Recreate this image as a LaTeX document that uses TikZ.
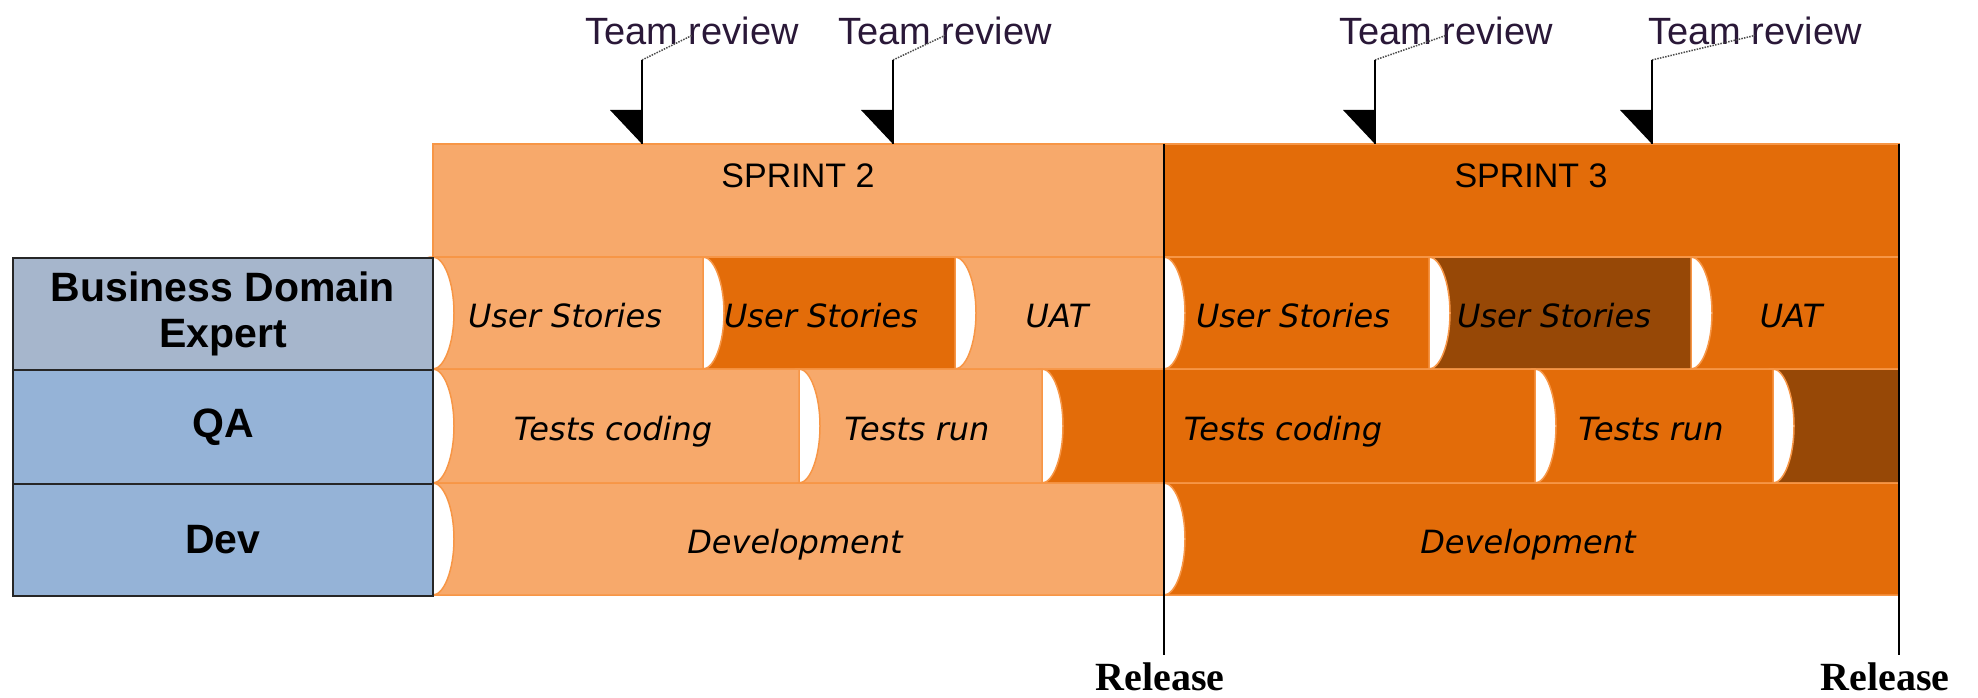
\documentclass[tikz,border=0pt]{standalone}
\usepackage{fontspec}
\setmainfont{Liberation Sans}
\newfontfamily\segfont{DejaVu Sans}
\newfontfamily\relfont{Liberation Serif}
\definecolor{lightor}{HTML}{F7A96B}
\definecolor{darkor}{HTML}{E36C09}
\definecolor{segbrown}{HTML}{974806}
\definecolor{edgeor}{HTML}{F79646}
\definecolor{bdeblue}{HTML}{A6B6CC}
\definecolor{roleblue}{HTML}{95B3D7}
\definecolor{reviewink}{HTML}{2A1838}
\newcommand\segm[5]{%
  \filldraw[segstyle, fill=#5] (#1,#3) -- (#2,#3) -- (#2,#4) -- (#1,#4)
    .. controls ({#1+11},#4) and ({#1+21},{#4-0.224*(#4-#3)}) .. ({#1+21},{(#3+#4)/2})
    .. controls ({#1+21},{#3+0.224*(#4-#3)}) and ({#1+11},#3) .. (#1,#3) -- cycle;}
\begin{document}
\begin{tikzpicture}[x=1pt,y=-1pt,
  segstyle/.style={draw=edgeor, line width=1.5pt},
  hdr/.style={draw=edgeor, line width=1.5pt},
  cell/.style={draw=black!85, line width=2pt, minimum width=420pt, anchor=north west, inner sep=0pt, align=center,
    font=\bfseries\fontsize{41}{50}\selectfont},
  segtext/.style={anchor=base, inner sep=0pt, font=\segfont\itshape\fontsize{32}{38}\selectfont},
  sprinttext/.style={anchor=base, inner sep=0pt, font=\fontsize{34}{40}\selectfont},
  reviewtext/.style={anchor=base, inner sep=0pt, text=reviewink, font=\fontsize{38}{44}\selectfont},
  reltext/.style={anchor=base, inner sep=0pt, font=\relfont\bfseries\fontsize{40}{48}\selectfont},
  relline/.style={draw=black, line width=2.2pt},
  mkline/.style={draw=black, line width=2pt},
  leader/.style={draw=black!70, line width=1.5pt, dash pattern=on 1.5pt off 1.2pt}]
\useasboundingbox (0,0) rectangle (1978,698);
\fill[white] (0,0) rectangle (1978,698);

% sprint headers
\filldraw[hdr, fill=lightor] (433,144) rectangle (1164,257);
\filldraw[hdr, fill=darkor] (1164,144) rectangle (1899,257);
\node[sprinttext] (sp2) at (798,187) {SPRINT 2};
\node[sprinttext] (sp3) at (1531,187) {SPRINT 3};

% row 1: business domain expert
\segm{433}{703}{257}{369}{lightor}
\segm{703}{955}{257}{369}{darkor}
\segm{955}{1164}{257}{369}{lightor}
\segm{1164}{1429}{257}{369}{darkor}
\segm{1429}{1691}{257}{369}{segbrown}
\segm{1691}{1899}{257}{369}{darkor}
% row 2: QA
\segm{433}{799}{369}{483}{lightor}
\segm{799}{1042}{369}{483}{lightor}
\segm{1042}{1535}{369}{483}{darkor}
\segm{1535}{1773}{369}{483}{darkor}
\segm{1773}{1899}{369}{483}{segbrown}
% row 3: Dev
\segm{433}{1164}{483}{595}{lightor}
\segm{1164}{1899}{483}{595}{darkor}

% segment labels
\node[segtext] (us1) at (565,327) {User Stories};
\node[segtext] (us2) at (821,327) {User Stories};
\node[segtext] (uat1) at (1057,327) {UAT};
\node[segtext] (us3) at (1293,327) {User Stories};
\node[segtext] (us4) at (1554,327) {User Stories};
\node[segtext] (uat2) at (1791,327) {UAT};
\node[segtext] (tc1) at (613,440) {Tests coding};
\node[segtext] (tr1) at (917,440) {Tests run};
\node[segtext] (tc2) at (1283,440) {Tests coding};
\node[segtext] (tr2) at (1651,440) {Tests run};
\node[segtext] (dv1) at (795,553) {Development};
\node[segtext] (dv2) at (1528,553) {Development};

% role column
\node[cell, fill=bdeblue, minimum height=112pt] (bde) at (12,257) {Business Domain\\[-4pt]Expert};
\node[cell, fill=roleblue, minimum height=114pt] (qa) at (12,369) {QA};
\node[cell, fill=roleblue, minimum height=112pt] (dev) at (12,483) {Dev};

% release lines
\node[reltext] (rel1) at (1160,690) {Release};
\node[reltext] (rel2) at (1885,690) {Release};
\coordinate (r1t) at (1164,144);
\coordinate (r1b) at (1164,655);
\coordinate (r2t) at (1899,144);
\coordinate (r2b) at (1899,655);
\draw[relline] (r1t) -- (r1b);
\draw[relline] (r2t) -- (r2b);

% team review markers
\foreach \i/\mx/\tx in {1/642/692, 2/893/945, 3/1375/1446, 4/1652/1755} {
  \node[reviewtext] (tr\i) at (\tx,45) {Team review};
  \coordinate (mk\i) at (\mx,60);
  \coordinate (mkb\i) at (\mx,144);
  \draw[leader] (mk\i) -- ([yshift=-4pt]tr\i.center);
  \draw[mkline] (mk\i) -- (mkb\i);
  \fill[black] (\mx-32,110) -- (\mx,110) -- (\mx,144) -- cycle;
}
\end{tikzpicture}
\end{document}
